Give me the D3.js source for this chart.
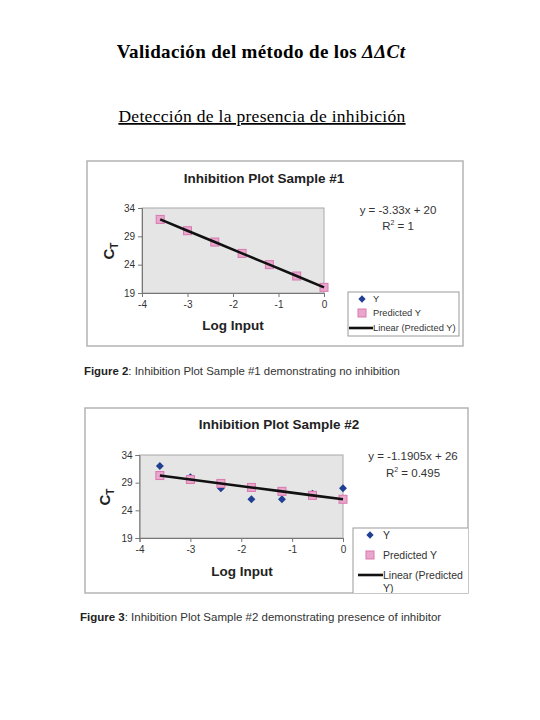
<!DOCTYPE html>
<html>
<head>
<meta charset="utf-8">
<script src="https://cdn.jsdelivr.net/npm/d3@7/dist/d3.min.js"></script>
<style>
  html, body { margin: 0; padding: 0; background: #fff; }
  svg { display: block; }
</style>
</head>
<body>
<svg id="page" width="540" height="720"></svg>
<script>
// ---- Data ----
const pageTitle = "Validación del método de los ";
const pageTitleItalic = "ΔΔCt";
const pageSubtitle = "Detección de la presencia de inhibición";

const logInput = [-3.6, -3, -2.4, -1.8, -1.2, -0.6, 0];
const sample1Y = [32, 30, 28, 26, 24, 22, 20];
const sample1Predicted = [31.99, 29.99, 27.99, 25.99, 24.0, 22.0, 20.0];
const sample2Y = [32, 30, 28, 26, 26, 27, 28];
const sample2Predicted = [30.29, 29.57, 28.86, 28.14, 27.43, 26.71, 26.0];

const xTicks = [-4, -3, -2, -1, 0];
const yTicks = [19, 24, 29, 34];
const legendLabels = ["Y", "Predicted Y", "Linear (Predicted Y)"];

const chartTitles = ["Inhibition Plot Sample #1", "Inhibition Plot Sample #2"];
const equations = [["y = -3.33x + 20", "1"], ["y = -1.1905x + 26", "0.495"]];
const captionsBold = ["Figure 2", "Figure 3"];
const captionsText = [": Inhibition Plot Sample #1 demonstrating no inhibition",
                      ": Inhibition Plot Sample #2 demonstrating presence of inhibitor"];

// ---- Drawing ----
const svg = d3.select("#page");
const sans = "Arial, 'Liberation Sans', Helvetica, sans-serif";
const serif = "'Times New Roman', 'Liberation Serif', serif";

svg.append("rect").attr("width", 540).attr("height", 720).attr("fill", "#fff");

const t1 = svg.append("text").attr("x", 261).attr("y", 58).attr("text-anchor", "middle")
  .attr("font-family", serif).attr("font-size", 19).attr("letter-spacing", 0.35)
  .attr("font-weight", "bold").attr("fill", "#000");
t1.append("tspan").text(pageTitle);
t1.append("tspan").attr("font-style", "italic").text(pageTitleItalic);

svg.append("text").attr("x", 262).attr("y", 122).attr("text-anchor", "middle")
  .attr("font-family", serif).attr("font-size", 17.5).attr("letter-spacing", 0.3).attr("fill", "#000")
  .attr("text-decoration", "underline").text(pageSubtitle);

const defs = svg.append("defs");

function drawChart(cfg, i, yVals, predVals) {
  const g = svg.append("g");
  const clipId = "clip" + i;
  defs.append("clipPath").attr("id", clipId).append("rect")
    .attr("x", cfg.frame[0]).attr("y", cfg.frame[1]).attr("width", cfg.frame[2]).attr("height", cfg.frame[3]);

  g.append("rect").attr("x", cfg.frame[0]).attr("y", cfg.frame[1])
    .attr("width", cfg.frame[2]).attr("height", cfg.frame[3])
    .attr("fill", "#fff").attr("stroke", "#b4b4b4").attr("stroke-width", 1.5);

  g.append("text").attr("x", cfg.titleX).attr("y", cfg.titleY).attr("text-anchor", "middle")
    .attr("font-family", sans).attr("font-weight", "bold").attr("font-size", 13.5).attr("fill", "#222")
    .text(chartTitles[i]);

  const x = d3.scaleLinear().domain([-4, 0]).range([cfg.plot[0], cfg.plot[1]]);
  const y = d3.scaleLinear().domain([19, 34]).range([cfg.plot[3], cfg.plot[2]]);

  g.append("rect").attr("x", x(-4)).attr("y", y(34))
    .attr("width", x(0) - x(-4)).attr("height", y(19) - y(34))
    .attr("fill", "#e5e5e5").attr("stroke", "#a8a8a8").attr("stroke-width", 1);

  const xAxis = g.append("g").attr("transform", `translate(0,${y(19)})`)
    .call(d3.axisBottom(x).tickValues(xTicks).tickSize(4).tickFormat(d => String(d)));
  const yAxis = g.append("g").attr("transform", `translate(${x(-4)},0)`)
    .call(d3.axisLeft(y).tickValues(yTicks).tickSize(4).tickFormat(d => String(d)));
  [xAxis, yAxis].forEach(a => {
    a.select(".domain").attr("stroke", "#777");
    a.selectAll(".tick line").attr("stroke", "#777");
    a.selectAll(".tick text").attr("font-family", sans).attr("font-size", 10).attr("fill", "#333");
  });
  xAxis.selectAll(".tick text").attr("dy", "0.71em").attr("y", 8);
  yAxis.selectAll(".tick text").attr("x", -7);

  g.append("text").attr("x", cfg.xLabel[0]).attr("y", cfg.xLabel[1]).attr("text-anchor", "middle")
    .attr("font-family", sans).attr("font-weight", "bold").attr("font-size", 13.5).attr("fill", "#222")
    .text("Log Input");

  const ct = g.append("text").attr("transform", `translate(${cfg.yLabel[0]},${cfg.yLabel[1]}) rotate(-90)`)
    .attr("text-anchor", "middle").attr("font-family", sans).attr("font-weight", "bold")
    .attr("font-size", 15).attr("fill", "#222");
  ct.append("tspan").text("C");
  ct.append("tspan").attr("font-size", 10).attr("dy", 4).text("T");

  const pts = logInput.map((d, k) => ({x: d, y: yVals[k], p: predVals[k]}));

  // Y series (diamonds)
  g.selectAll(".dia").data(pts).enter().append("path")
    .attr("d", d3.symbol().type(d3.symbolDiamond2).size(40))
    .attr("transform", d => `translate(${x(d.x)},${y(d.y)})`)
    .attr("fill", "#213f93");

  // Predicted Y (squares)
  g.selectAll(".sq").data(pts).enter().append("rect")
    .attr("x", d => x(d.x) - 4).attr("y", d => y(d.p) - 4)
    .attr("width", 8).attr("height", 8)
    .attr("fill", "#eaa6cc").attr("stroke", "#d77aae").attr("stroke-width", 1);

  // Linear trendline
  g.append("path").datum(pts)
    .attr("d", d3.line().x(d => x(d.x)).y(d => y(d.p)))
    .attr("fill", "none").attr("stroke", "#111").attr("stroke-width", 2.6);

  // Equation
  g.append("text").attr("x", cfg.eq[0]).attr("y", cfg.eq[1]).attr("text-anchor", "middle")
    .attr("font-family", sans).attr("font-size", 11.5).attr("fill", "#333").text(equations[i][0]);
  const r2 = g.append("text").attr("x", cfg.eq[0]).attr("y", cfg.eq[1] + cfg.eqGap).attr("text-anchor", "middle")
    .attr("font-family", sans).attr("font-size", 11.5).attr("fill", "#333");
  r2.append("tspan").text("R");
  r2.append("tspan").attr("font-size", 7).attr("dy", -5).text("2");
  r2.append("tspan").attr("dy", 5).text(" = " + equations[i][1]);

  // Legend
  const lg = g.append("g").attr("clip-path", `url(#${clipId})`);
  const L = cfg.legend;
  lg.append("rect").attr("x", L.x).attr("y", L.y).attr("width", L.w).attr("height", L.h)
    .attr("fill", "#fff").attr("stroke", "#9a9a9a").attr("stroke-width", 1);
  lg.append("path").attr("d", d3.symbol().type(d3.symbolDiamond2).size(34))
    .attr("transform", `translate(${L.mx},${L.rows[0]})`).attr("fill", "#213f93");
  lg.append("rect").attr("x", L.mx - 4).attr("y", L.rows[1] - 4).attr("width", 8).attr("height", 8)
    .attr("fill", "#eaa6cc").attr("stroke", "#d77aae");
  lg.append("line").attr("x1", L.lx1).attr("x2", L.lx2).attr("y1", L.rows[2]).attr("y2", L.rows[2])
    .attr("stroke", "#111").attr("stroke-width", 2.6);
  const labels = cfg.legendWrap
    ? [legendLabels[0], legendLabels[1], "Linear (Predicted"]
    : legendLabels;
  labels.forEach((lab, k) => {
    lg.append("text").attr("x", L.tx).attr("y", L.rows[k]).attr("dy", "0.35em")
      .attr("font-family", sans).attr("font-size", L.fs).attr("fill", "#333").text(lab);
  });
  if (cfg.legendWrap) {
    lg.append("text").attr("x", L.tx).attr("y", L.rows[2] + 13).attr("dy", "0.35em")
      .attr("font-family", sans).attr("font-size", L.fs).attr("fill", "#333").text("Y)");
  }

  // Caption
  const cap = svg.append("text").attr("x", cfg.caption[0]).attr("y", cfg.caption[1])
    .attr("font-family", sans).attr("font-size", cfg.caption[2]).attr("fill", "#333");
  cap.append("tspan").attr("font-weight", "bold").attr("fill", "#222").text(captionsBold[i]);
  cap.append("tspan").text(captionsText[i]);
}

drawChart({
  frame: [87, 161, 376, 185],
  titleX: 264, titleY: 183,
  plot: [142, 324, 208, 293],
  xLabel: [233, 330], yLabel: [114, 251],
  eq: [398, 214], eqGap: 16,
  legend: {x: 348, y: 292, w: 111, h: 44, mx: 362, tx: 373, lx1: 349, lx2: 373, rows: [299, 313, 328], fs: 9.3},
  legendWrap: false,
  caption: [84, 375, 11.4]
}, 0, sample1Y, sample1Predicted);

drawChart({
  frame: [85, 408, 383, 185],
  titleX: 279, titleY: 429,
  plot: [139.5, 343, 455, 538],
  xLabel: [242, 576], yLabel: [110, 497],
  eq: [413, 460], eqGap: 17,
  legend: {x: 353, y: 528, w: 118, h: 70, mx: 370, tx: 383, lx1: 358, lx2: 383, rows: [535, 555, 575], fs: 10.5},
  legendWrap: true,
  caption: [80, 621, 11.5]
}, 1, sample2Y, sample2Predicted);
</script>
</body>
</html>
